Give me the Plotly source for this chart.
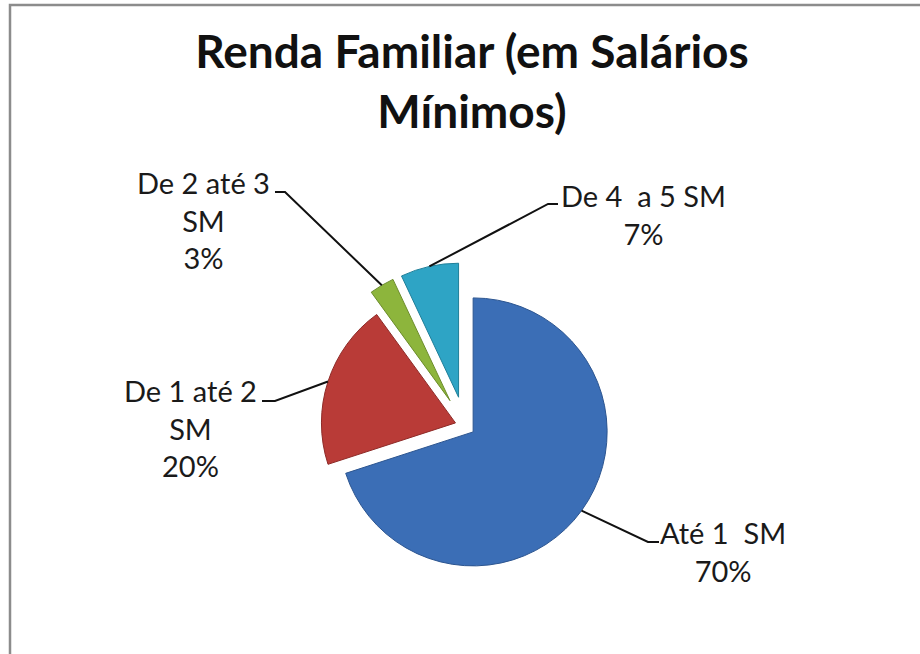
import math

import plotly.graph_objects as go

W, H = 920, 654

# data
categories = ["Até 1\u00a0 SM", "De 1 até 2 SM", "De 2 até 3 SM", "De 4\u00a0 a 5 SM"]
label_names = ["Até 1\u00a0 SM", "De 1 até 2<br>SM", "De 2 até 3<br>SM", "De 4\u00a0 a 5 SM"]
values = [70, 20, 3, 7]

COLORS = ["#3B6EB6", "#B93B37", "#8DB53C", "#2EA4C5"]
EDGES = ["#2C5590", "#8E2A27", "#6B8C2A", "#1F7F99"]
PULLS = [0.075, 0.075, 0.22, 0.22]

FONT = "Lato"

# pie placement, in pixels
PIE_CX, PIE_CY, PIE_R = 465, 426, 134
half = PIE_R * (1 + max(PULLS))


def to_paper(x, y):
    return x / W, 1 - y / H


def slice_anchor(i):
    total = sum(values)
    start = sum(values[:i]) / total * 360
    mid = math.radians(start + values[i] / total * 180)
    r = PIE_R * (1 + PULLS[i])
    return PIE_CX + r * math.sin(mid), PIE_CY - r * math.cos(mid)


fig = go.Figure(
    go.Pie(
        labels=categories,
        values=values,
        sort=False,
        direction="clockwise",
        rotation=0,
        pull=PULLS,
        textinfo="none",
        hoverinfo="label+percent",
        marker=dict(colors=COLORS, line=dict(color=EDGES, width=1)),
        domain=dict(
            x=[(PIE_CX - half) / W, (PIE_CX + half) / W],
            y=[1 - (PIE_CY + half) / H, 1 - (PIE_CY - half) / H],
        ),
        showlegend=False,
    )
)

# label boxes (centre, px) and leader line elbows (px)
label_pos = [(723, 551), (190, 428), (203, 220), (643, 214)]
elbows = [
    ((648, 542), (659, 542)),
    ((275, 401), (262, 401)),
    ((285, 192), (275, 192)),
    ((548, 204), (558, 204)),
]

total = sum(values)
for i, name in enumerate(label_names):
    pct = round(values[i] / total * 100)
    lx, ly = to_paper(*label_pos[i])
    fig.add_annotation(
        text=f"{name}<br>{pct}%",
        x=lx, y=ly, xref="paper", yref="paper",
        xanchor="center", yanchor="middle",
        showarrow=False, align="center",
        font=dict(family=FONT, size=29, color="#1a1a1a"),
    )
    pts = [slice_anchor(i), elbows[i][0], elbows[i][1]]
    pts = [to_paper(*p) for p in pts]
    path = "M " + " L ".join(f"{px:.4f},{py:.4f}" for px, py in pts)
    fig.add_shape(type="path", path=path, xref="paper", yref="paper",
                  line=dict(color="#111111", width=2))

# chart border (open on right and bottom like the crop)
bx, by = to_paper(10, 5)
fig.add_shape(type="rect", xref="paper", yref="paper",
              x0=bx, y0=-0.2, x1=1.2, y1=by,
              line=dict(color="#8C8C8C", width=2.5))

fig.update_layout(
    width=W,
    height=H,
    margin=dict(l=0, r=0, t=0, b=0),
    paper_bgcolor="white",
    plot_bgcolor="white",
    title=dict(
        text="Renda Familiar (em Salários<br>Mínimos)",
        x=472 / W, xanchor="center",
        y=1 - 68 / H, yanchor="top", yref="container",
        font=dict(family=FONT, size=46, color="#111111", weight="bold"),
    ),
)

# the page body has a default 8px margin; drop it so the figure sits at 0,0
fig.write_html(
    "out.html",
    config={"displayModeBar": False},
    post_script="document.body.style.margin='0';",
)
